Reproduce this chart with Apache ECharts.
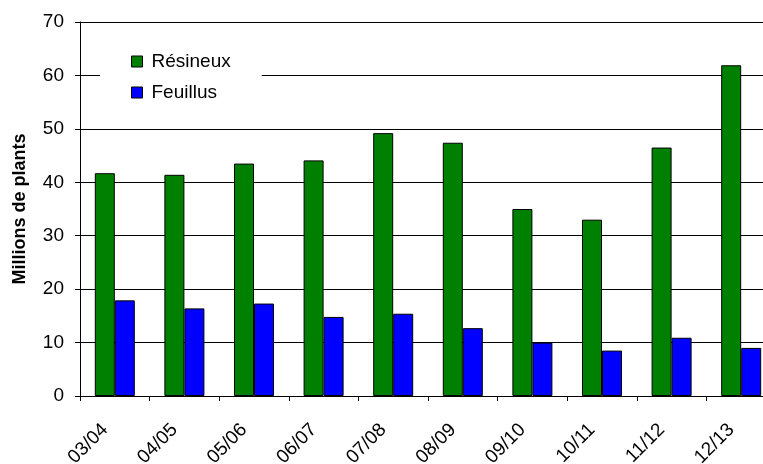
<!DOCTYPE html>
<html>
<head>
<meta charset="utf-8">
<script src="https://cdn.jsdelivr.net/npm/echarts@6/dist/echarts.min.js"></script>
<style>
  html, body { margin: 0; padding: 0; background: #fff; overflow: hidden; }
  #chart { width: 763px; height: 464px; }
</style>
</head>
<body>
<div id="chart"></div>
<script>
const seasons = ['03/04', '04/05', '05/06', '06/07', '07/08', '08/09', '09/10', '10/11', '11/12', '12/13']
const resineux = [41.7, 41.4, 43.5, 44.1, 49.2, 47.4, 35.0, 33.0, 46.5, 61.9]
const feuillus = [17.9, 16.4, 17.3, 14.8, 15.4, 12.7, 10.0, 8.5, 10.9, 9.0]

const chart = echarts.init(document.getElementById('chart'))
const font = 'Liberation Sans, Arial, sans-serif'

chart.setOption({
  animation: false,
  textStyle: { fontFamily: font, color: '#000' },
  grid: { left: 80, top: 22, bottom: 68, width: 696, outerBoundsMode: 'none', containLabel: false },
  legend: {
    orient: 'vertical',
    left: 100,
    top: 44,
    padding: [8, 31, 8, 31],
    backgroundColor: '#fff',
    itemWidth: 11,
    itemHeight: 11,
    itemGap: 12,
    textStyle: { fontFamily: font, fontSize: 19, color: '#000', padding: [0, 0, 0, 4] },
    data: [
      { name: 'Résineux', icon: 'rect', itemStyle: { color: '#008000', borderColor: '#000', borderWidth: 1 } },
      { name: 'Feuillus', icon: 'rect', itemStyle: { color: '#0000ff', borderColor: '#000', borderWidth: 1 } }
    ]
  },
  xAxis: {
    type: 'category',
    data: seasons,
    boundaryGap: true,
    axisLine: { lineStyle: { color: '#000', width: 1 } },
    axisTick: { show: true, length: 5, alignWithLabel: false, lineStyle: { color: '#000' } },
    axisLabel: { rotate: 45, fontSize: 19, color: '#000', fontFamily: font, margin: 21, padding: [0, 14, 0, 0], interval: 0 }
  },
  yAxis: {
    type: 'value',
    min: 0,
    max: 70,
    interval: 10,
    name: 'Millions de plants',
    nameLocation: 'middle',
    nameGap: 51,
    nameTextStyle: { fontFamily: font, fontSize: 18, fontWeight: 'bold', color: '#000' },
    axisLine: { show: true, lineStyle: { color: '#000', width: 1 } },
    axisTick: { show: true, length: 5, lineStyle: { color: '#000' } },
    axisLabel: { fontSize: 19, color: '#000', fontFamily: font, margin: 16 },
    splitLine: { show: true, lineStyle: { color: '#000', width: 1 } }
  },
  series: [
    {
      name: 'Résineux',
      type: 'bar',
      data: resineux,
      barWidth: 20,
      barGap: '0%',
      itemStyle: { color: '#008000', borderColor: '#000', borderWidth: 1 }
    },
    {
      name: 'Feuillus',
      type: 'bar',
      data: feuillus,
      barWidth: 20,
      barGap: '0%',
      itemStyle: { color: '#0000ff', borderColor: '#000', borderWidth: 1 }
    }
  ]
})
</script>
</body>
</html>
